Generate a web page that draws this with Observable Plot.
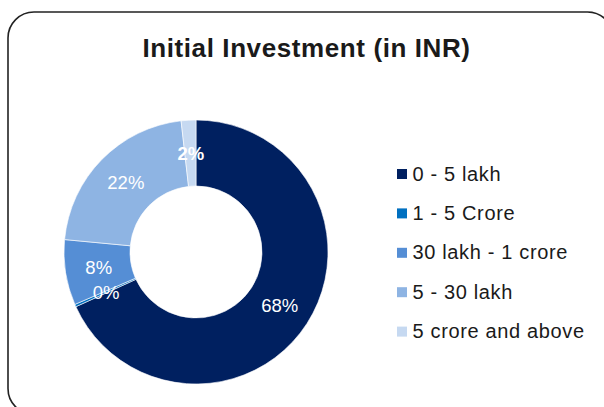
<!DOCTYPE html>
<html>
<head>
<meta charset="utf-8">
<script src="https://cdn.jsdelivr.net/npm/d3@7"></script>
<script src="https://cdn.jsdelivr.net/npm/@observablehq/plot@0.6"></script>
<style>
  html, body { margin: 0; padding: 0; background: #fff; overflow: hidden; }
</style>
</head>
<body>
<div id="chart"></div>
<script>
// ---- data ----
const title = "Initial Investment (in INR)";
const categories = ["0 - 5 lakh", "1 - 5 Crore", "30 lakh - 1 crore", "5 - 30 lakh", "5 crore and above"];
const shares = [68.2, 0.3, 8.0, 21.7, 1.8];
const shareLabels = ["68%", "0%", "8%", "22%", "2%"];
const colors = ["#002060", "#0070C0", "#558ED5", "#8EB4E3", "#C6D9F1"];

// ---- layout ----
const W = 604, H = 407;
const CX = 196, CY = 252, R_OUT = 132, R_IN = 66;
const LABEL_R = (R_OUT + R_IN) / 2;
const LEG_X = 397, LEG_Y0 = 180, LEG_STEP = 39.4;

const rows = categories.map((c, i) => ({category: c, share: shares[i], label: shareLabels[i], i}));
const arcs = d3.pie().sort(null).value(d => d.share)(rows);
const labelRows = arcs.map(a => {
  const mid = (a.startAngle + a.endAngle) / 2;
  return {...a.data, lx: CX + LABEL_R * Math.sin(mid), ly: CY - LABEL_R * Math.cos(mid)};
});

function donut(index, scales) {
  const g = d3.create("svg:g")
    .attr("transform", `translate(${scales.x(CX)},${scales.y(CY)})`);
  const arc = d3.arc().innerRadius(R_IN).outerRadius(R_OUT);
  g.selectAll("path").data(arcs).join("path")
    .attr("d", arc)
    .attr("fill", d => scales.color(d.data.category))
    .attr("stroke", "#fff")
    .attr("stroke-width", 0.6);
  return g.node();
}

const chart = Plot.plot({
  width: W,
  height: H,
  margin: 0,
  style: {fontFamily: "'Liberation Sans', Arial, sans-serif", background: "#fff"},
  x: {domain: [0, W], range: [0, W], axis: null},
  y: {domain: [0, H], range: [0, H], axis: null},
  color: {domain: categories, range: colors},
  marks: [
    Plot.frame({rx: 26, stroke: "#222", strokeWidth: 1.6, insetLeft: 7.5, insetTop: 11.5, insetRight: -9, insetBottom: -7}),
    donut,
    Plot.text(labelRows.filter(d => d.i !== 4), {
      x: "lx", y: "ly", text: "label", fill: "#fff", fontSize: 18.5,
      textAnchor: "middle", lineAnchor: "middle"
    }),
    Plot.text(labelRows.filter(d => d.i === 4), {
      x: "lx", y: "ly", text: "label", fill: "#fff", fontSize: 18.5, fontWeight: "bold",
      textAnchor: "middle", lineAnchor: "middle"
    }),
    Plot.rect(rows, {
      x1: LEG_X, x2: LEG_X + 10,
      y1: d => LEG_Y0 + d.i * LEG_STEP - 11, y2: d => LEG_Y0 + d.i * LEG_STEP - 1,
      fill: "category"
    }),
    Plot.text(rows, {
      x: LEG_X + 15, y: d => LEG_Y0 + d.i * LEG_STEP, text: "category",
      fill: "#1a1a1a", fontSize: 20, textAnchor: "start", lineAnchor: "bottom"
    }),
    Plot.text([title], {
      x: 306, y: 56.5, text: d => d, fill: "#1a1a1a", fontSize: 26, fontWeight: "bold",
      textAnchor: "middle", lineAnchor: "bottom"
    })
  ]
});
// widen letter spacing of title and legend text to match the reference's wider glyph run
d3.select(chart).selectAll("text").each(function() {
  const t = this.textContent;
  if (t === title) this.style.letterSpacing = "0.6px";
  else if (categories.includes(t)) this.style.letterSpacing = "0.65px";
});
document.getElementById("chart").appendChild(chart);
</script>
</body>
</html>
